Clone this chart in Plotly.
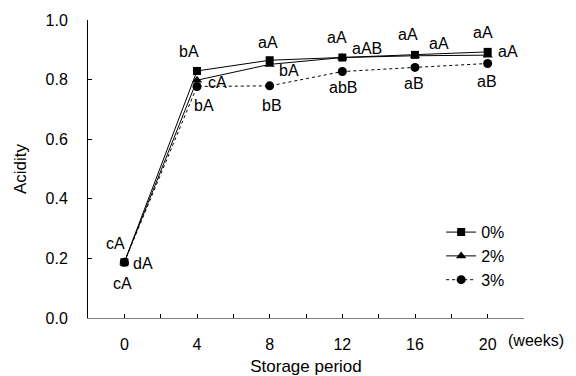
import plotly.graph_objects as go

weeks = [0, 4, 8, 12, 16, 20]
series_names = ["0%", "2%", "3%"]
acid_0 = [0.187, 0.829, 0.865, 0.874, 0.883, 0.893]
acid_2 = [0.187, 0.798, 0.851, 0.874, 0.880, 0.882]
acid_3 = [0.187, 0.777, 0.779, 0.827, 0.841, 0.854]

# significance letters
labels_0 = ["cA", "bA", "aA", "aA", "aA", "aA"]
labels_2 = ["dA", "cA", "bA", "aAB", "aA", "aA"]
labels_3 = ["cA", "bA", "bB", "abB", "aB", "aB"]

# pixel offsets of letters relative to points (styling)
off_0 = [(-9, 19), (-8, 19), (-2, 18), (-5, 20), (-7, 20), (-5, 19)]
off_2 = [(19, -1), (20, -2), (19, -6), (25, 9), (24, 12), (20, 4)]
off_3 = [(-2, -21), (7, -19), (2, -20), (1, -16), (-1, -16), (-1, -18)]

FONT = "Liberation Sans, Arial, sans-serif"
FS = 16

fig = go.Figure()
fig.add_trace(go.Scatter(x=weeks, y=acid_0, name=series_names[0], mode="lines+markers",
                         line=dict(color="black", width=1),
                         marker=dict(symbol="square", size=8, color="black")))
fig.add_trace(go.Scatter(x=weeks, y=acid_2, name=series_names[1], mode="lines+markers",
                         line=dict(color="black", width=1),
                         marker=dict(symbol="triangle-up", size=9, color="black")))
fig.add_trace(go.Scatter(x=weeks, y=acid_3, name=series_names[2], mode="lines+markers",
                         line=dict(color="black", width=1, dash="dot"),
                         marker=dict(symbol="circle", size=9, color="black")))

annotations = []
for vals, labs, offs in [(acid_0, labels_0, off_0), (acid_2, labels_2, off_2), (acid_3, labels_3, off_3)]:
    for xv, yv, t, (dx, dy) in zip(weeks, vals, labs, offs):
        annotations.append(dict(x=xv, y=yv, xref="x", yref="y", text=t, showarrow=False,
                                xshift=dx, yshift=dy, font=dict(size=FS, color="black", family=FONT)))
annotations.append(dict(x=0.958, y=-0.077, xref="paper", yref="paper", text="(weeks)",
                        showarrow=False, xanchor="left", yanchor="middle",
                        font=dict(size=FS, color="black", family=FONT)))

fig.update_layout(
    width=576, height=376,
    margin=dict(l=88, r=52, t=20, b=58),
    paper_bgcolor="white", plot_bgcolor="white",
    font=dict(family=FONT, size=FS, color="black"),
    showlegend=True,
    legend=dict(x=0.81, y=0.345, xanchor="left", yanchor="top",
                bgcolor="rgba(0,0,0,0)", font=dict(size=FS), tracegroupgap=0,
                itemwidth=30),
    annotations=annotations,
    xaxis=dict(range=[-2, 22], tickvals=weeks, ticktext=[str(w) for w in weeks],
               automargin=False,
               showgrid=False, zeroline=False, showline=True, linecolor="#808080", linewidth=1,
               ticks="inside", ticklen=4, tickcolor="black", ticklabelstandoff=12,
               minor=dict(dtick=2, tick0=0, ticks="inside", ticklen=4, tickcolor="black"),
               title=dict(text="Storage period", font=dict(size=17), standoff=8),
               tickfont=dict(size=FS)),
    yaxis=dict(range=[0, 1.0], dtick=0.2, tickformat=".1f",
               automargin=False,
               showgrid=False, zeroline=False, showline=True, linecolor="black", linewidth=1,
               ticks="inside", ticklen=4, tickcolor="black", ticklabelstandoff=16,
               title=dict(text="Acidity", font=dict(size=17), standoff=14),
               tickfont=dict(size=FS)),
)

fig.write_html("out.html")
